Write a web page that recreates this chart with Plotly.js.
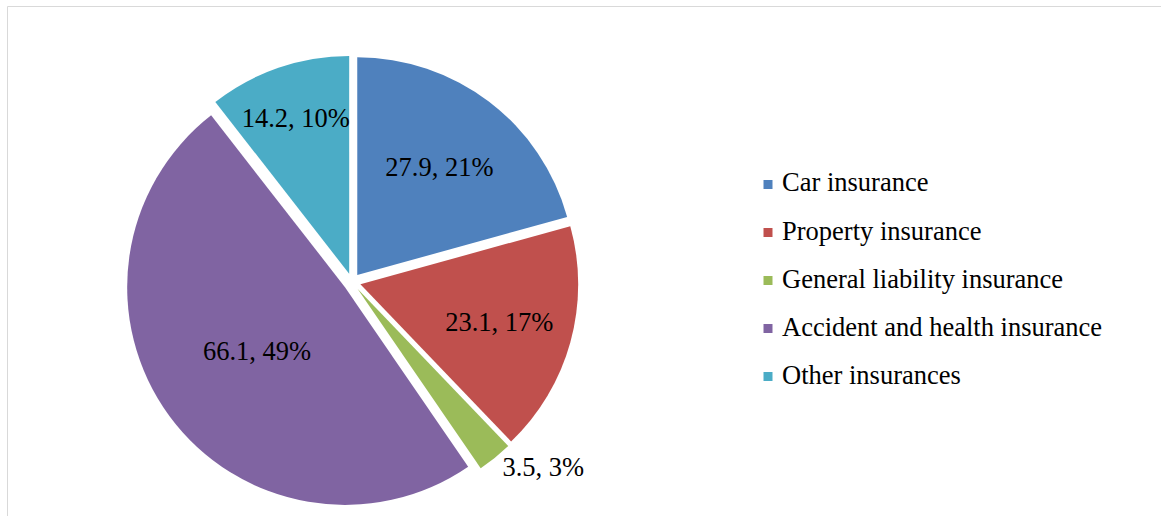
<!DOCTYPE html>
<html>
<head>
<meta charset="utf-8">
<script src="https://cdn.plot.ly/plotly-3.0.1.min.js"></script>
<style>
  html, body { margin: 0; padding: 0; background: #ffffff; }
  #chart { width: 1161px; height: 516px; }
</style>
</head>
<body>
<div id="chart"></div>
<script>
// ---- data ----
const categories = ["Car insurance", "Property insurance", "General liability insurance", "Accident and health insurance", "Other insurances"];
const premiums = [27.9, 23.1, 3.5, 66.1, 14.2];
const percentLabels = ["21%", "17%", "3%", "49%", "10%"];
const sliceColors = ["#4F81BD", "#C0504D", "#9BBB59", "#8064A2", "#4BACC6"];
const labelPositions = ["inside", "inside", "outside", "inside", "inside"];

// ---- layout helpers (pixel -> paper) ----
const W = 1161, H = 516;
const px = x => x / W;
const py = y => 1 - y / H;
const FONT = "Liberation Serif, Times New Roman, serif";
const FS = 26.5;

const trace = {
  type: "pie",
  labels: categories,
  values: premiums,
  text: percentLabels,
  texttemplate: "%{value}, %{text}",
  textposition: labelPositions,
  insidetextorientation: "horizontal",
  sort: false,
  direction: "clockwise",
  rotation: 0,
  pull: 0.04,
  marker: { colors: sliceColors, line: { width: 0 } },
  textfont: { family: FONT, size: FS, color: "#000000" },
  insidetextfont: { family: FONT, size: FS, color: "#000000" },
  outsidetextfont: { family: FONT, size: FS, color: "#000000" },
  domain: { x: [px(125.5), px(578.5)], y: [py(508.5), py(55.5)] },
  hoverinfo: "label+value+percent",
  showlegend: false
};

// custom legend (spacing as in the reference)
const annotations = [];
const shapes = [
  { type: "rect", xref: "paper", yref: "paper", x0: px(7.5), x1: px(1170), y0: py(6.5), y1: py(530),
    line: { color: "#D9D9D9", width: 1 }, fillcolor: "rgba(0,0,0,0)", layer: "below" }
];
categories.forEach((name, i) => {
  const cy = 184.5 + 48 * i;
  shapes.push({
    type: "rect", xref: "paper", yref: "paper",
    xsizemode: "pixel", ysizemode: "pixel",
    xanchor: px(768), yanchor: py(cy),
    x0: -4.5, x1: 4.5, y0: -4.5, y1: 4.5,
    fillcolor: sliceColors[i], line: { width: 0 }
  });
  annotations.push({
    xref: "paper", yref: "paper", x: px(780), y: py(cy - 2),
    xanchor: "left", yanchor: "middle", showarrow: false,
    text: name, font: { family: FONT, size: FS, color: "#000000" }
  });
});

const layout = {
  width: W, height: H,
  margin: { l: 0, r: 0, t: 0, b: 0, pad: 0 },
  paper_bgcolor: "#ffffff",
  plot_bgcolor: "#ffffff",
  showlegend: false,
  uniformtext: { mode: "show", minsize: FS },
  font: { family: FONT, size: FS, color: "#000000" },
  shapes: shapes,
  annotations: annotations
};

Plotly.newPlot("chart", [trace], layout, { displayModeBar: false, staticPlot: true });
</script>
</body>
</html>
